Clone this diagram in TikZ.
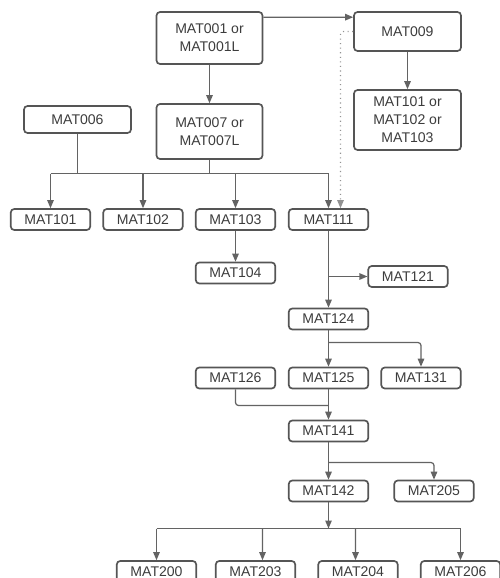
\documentclass[tikz,border=0pt]{standalone}
\usepackage{fontspec}
\setmainfont{Liberation Sans}
\usetikzlibrary{arrows.meta,positioning}
\definecolor{linegray}{HTML}{636363}
\definecolor{boxgray}{HTML}{555555}
\definecolor{textgray}{HTML}{3C3C3C}
\begin{document}
\begin{tikzpicture}[x=0.02cm,y=-0.02cm,
  course/.style={draw=boxgray,line width=0.95pt,rounded corners=0.7mm,text=textgray,align=center,inner sep=0pt,minimum width=15.9mm,minimum height=4.2mm,font=\fontsize{8}{10.2}\selectfont},
  conn/.style={draw=linegray,line width=0.7pt},
  arr/.style={conn,-{Triangle[length=1.6mm,width=1.3mm]}},
  dotline/.style={draw=linegray!70,line width=0.6pt,dotted,-{Triangle[length=1.6mm,width=1.3mm]}}]
\clip (0,0) rectangle (500,578);
\node[course,minimum width=21.2mm,minimum height=10.4mm] (n001) at (209.5,38) {MAT001 or\\MAT001L};
\node[course,minimum width=21.4mm,minimum height=7.8mm] (n009) at (407.5,31.5) {MAT009};
\node[course,minimum width=21.4mm,minimum height=12mm] (nany) at (407.5,120) {MAT101 or\\MAT102 or\\MAT103};
\node[course,minimum width=21.4mm,minimum height=5.4mm] (n006) at (77.5,119.5) {MAT006};
\node[course,minimum width=21.2mm,minimum height=11mm] (n007) at (209.5,131.5) {MAT007 or\\MAT007L};

\node[course] (n101) at (50.5,219.5) {MAT101};
\node[course] (n102) at (143,219.5) {MAT102};
\node[course] (n103) at (235.5,219.5) {MAT103};
\node[course] (n111) at (328.5,219.5) {MAT111};
\node[course] (n104) at (235.5,273) {MAT104};
\node[course] (n121) at (408,276.5) {MAT121};
\node[course] (n124) at (328.5,319) {MAT124};
\node[course] (n126) at (235.5,378) {MAT126};
\node[course] (n125) at (328.5,378) {MAT125};
\node[course] (n131) at (421,378) {MAT131};
\node[course] (n141) at (328.5,431) {MAT141};
\node[course] (n142) at (328.5,491) {MAT142};
\node[course] (n205) at (434,491) {MAT205};
\node[course] (n200) at (156.5,571.5) {MAT200};
\node[course] (n203) at (255.5,571.5) {MAT203};
\node[course] (n204) at (358,571.5) {MAT204};
\node[course] (n206) at (460.5,571.5) {MAT206};

% top part
\draw[arr] ([yshift=-1.2mm]n001.north east) -- ([yshift=-1.2mm]n009.north west);
\draw[arr] (n001) -- (n007);
\draw[arr] (n009) -- (nany);
\draw[dotline,rounded corners=0.6mm] (n009.west) -| ([xshift=2.4mm]n111.north);

\coordinate (busa) at (50.5,173.5);
\coordinate (busb) at (328.5,173.5);
\draw[conn] (n006.south) -- (n006.south |- busa);
\draw[conn] (n007.south) -- (n007.south |- busa);
\draw[conn] (busa) -- (busb);
\draw[arr] (busa) -- (n101.north);
\draw[arr] (n102.north |- busa) -- (n102.north);
\draw[arr] (n103.north |- busa) -- (n103.north);
\draw[arr] (busb) -- (n111.north);

% middle part
\draw[arr] (n103) -- (n104);
\draw[arr] (n111) -- (n124);
\draw[arr] (n111.south |- n121.west) -- (n121.west);
\draw[arr] (n124) -- (n125);
\draw[arr,rounded corners=0.6mm] (n124.south |- 0,342.5) -| (n131.north);
\draw[arr] (n125) -- (n141);
\coordinate (j126) at (328.5,405.5);
\draw[conn,rounded corners=0.6mm] (n126.south) |- (j126);

% lower part
\draw[arr] (n141) -- (n142);
\draw[arr,rounded corners=0.6mm] (n141.south |- 0,462.5) -| (n205.north);
\coordinate (busc) at (156.5,528.5);
\coordinate (busd) at (460.5,528.5);
\draw[arr] (n142.south) -- (n142.south |- busc);
\draw[conn] (busc) -- (busd);
\draw[arr] (busc) -- (n200.north -| busc);
\draw[arr] (262.5,528.5) -- ([xshift=1.4mm]n203.north);
\draw[arr] (355.5,528.5) -- ([xshift=-0.5mm]n204.north);
\draw[arr] (busd) -- (n206.north -| busd);
\end{tikzpicture}
\end{document}
